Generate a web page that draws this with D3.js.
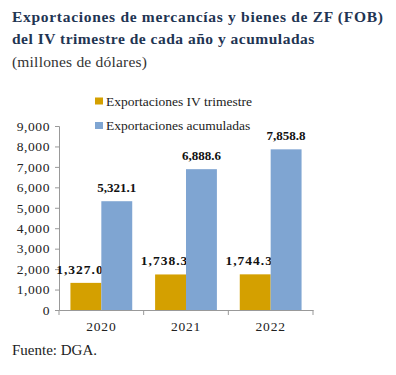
<!DOCTYPE html>
<html>
<head>
<meta charset="utf-8">
<script src="https://cdn.jsdelivr.net/npm/d3@7"></script>
<style>
  body { margin: 0; background: #fff; }
  text { font-family: "Liberation Serif", "DejaVu Serif", serif; }
</style>
</head>
<body>
<svg></svg>
<script>
// chart data
var years = ["2020", "2021", "2022"];
var seriesNames = ["Exportaciones IV trimestre", "Exportaciones acumuladas"];
var trimestre = [1327.0, 1738.3, 1744.3];
var acumuladas = [5321.1, 6888.6, 7858.8];
var yTicks = [0, 1000, 2000, 3000, 4000, 5000, 6000, 7000, 8000, 9000];
var colors = ["#d4a000", "#7fa5d2"];

var svg = d3.select("svg").attr("width", 396).attr("height", 375);

// titles
svg.append("text").attr("x", 12).attr("y", 22)
  .attr("font-size", 15.5).attr("font-weight", "bold").attr("fill", "#1f3553")
  .attr("letter-spacing", 0.7)
  .text("Exportaciones de mercancías y bienes de ZF (FOB)");
svg.append("text").attr("x", 12).attr("y", 44)
  .attr("font-size", 15.5).attr("font-weight", "bold").attr("fill", "#1f3553")
  .attr("letter-spacing", 0.5)
  .text("del IV trimestre de cada año y acumuladas");
svg.append("text").attr("x", 12).attr("y", 67)
  .attr("font-size", 15.5).attr("fill", "#333")
  .attr("letter-spacing", 0.2)
  .text("(millones de dólares)");

// plot area
var plotLeft = 59, plotRight = 313, plotTop = 126, plotBottom = 310;

var x = d3.scaleBand().domain(years).range([plotLeft, plotRight]);
var x1 = d3.scaleBand().domain([0, 1]).range([0, x.bandwidth()]).paddingOuter(0.37).paddingInner(0);
var y = d3.scaleLinear().domain([0, 9000]).range([plotBottom, plotTop]);

// y axis
var yAxis = svg.append("g")
  .attr("transform", "translate(" + plotLeft + ",0)")
  .call(d3.axisLeft(y).tickValues(yTicks).tickSize(4).tickPadding(5)
    .tickFormat(d3.format(",")))
  .attr("font-family", null);
yAxis.select(".domain").attr("stroke", "#999");
yAxis.selectAll(".tick line").attr("stroke", "#999");
yAxis.selectAll(".tick text").attr("font-size", 13.5).attr("fill", "#222")
  .attr("letter-spacing", 0.6);

// x axis with boundary ticks
var xAxis = svg.append("g")
  .attr("transform", "translate(0," + plotBottom + ")")
  .call(d3.axisBottom(x).tickSize(0).tickPadding(11))
  .attr("font-family", null);
xAxis.select(".domain").attr("stroke", "#999");
xAxis.selectAll(".tick text").attr("font-size", 13.5).attr("fill", "#222")
  .attr("letter-spacing", 0.8);
svg.append("g").selectAll("line")
  .data([plotLeft].concat(years.map(function(d) { return x(d) + x.bandwidth(); })))
  .enter().append("line")
  .attr("x1", function(d) { return d; }).attr("x2", function(d) { return d; })
  .attr("y1", plotBottom).attr("y2", plotBottom + 5)
  .attr("stroke", "#999");

// bars
var series = [trimestre, acumuladas];
series.forEach(function(vals, s) {
  svg.append("g").selectAll("rect")
    .data(vals)
    .enter().append("rect")
    .attr("x", function(d, i) { return x(years[i]) + x1(s); })
    .attr("y", function(d) { return y(d); })
    .attr("width", x1.bandwidth())
    .attr("height", function(d) { return plotBottom - y(d); })
    .attr("fill", colors[s]);

  // gold labels are spaced out and sit a bit to the left, as in the source
  svg.append("g").selectAll("text")
    .data(vals)
    .enter().append("text")
    .attr("x", function(d, i) { return x(years[i]) + x1(s) + x1.bandwidth() / 2 - (s == 0 ? 6 : 0); })
    .attr("y", function(d) { return y(d) - 9; })
    .attr("text-anchor", "middle")
    .attr("font-size", s == 0 ? 13.5 : 13).attr("font-weight", "bold").attr("fill", "#111")
    .attr("letter-spacing", s == 0 ? 1 : 0)
    .text(function(d) { return d3.format(",.1f")(d); });
});

// legend
var legend = svg.append("g").selectAll("g")
  .data(seriesNames)
  .enter().append("g")
  .attr("transform", function(d, i) { return "translate(95," + (97 + i * 24.5) + ")"; });
legend.append("rect").attr("y", 0.5).attr("width", 8).attr("height", 7)
  .attr("fill", function(d, i) { return colors[i]; });
legend.append("text").attr("x", 11).attr("y", 8.5)
  .attr("font-size", 13.5).attr("fill", "#222")
  .text(function(d) { return d; });

// source
svg.append("text").attr("x", 12).attr("y", 355)
  .attr("font-size", 15).attr("fill", "#222")
  .text("Fuente: DGA.");
</script>
</body>
</html>
